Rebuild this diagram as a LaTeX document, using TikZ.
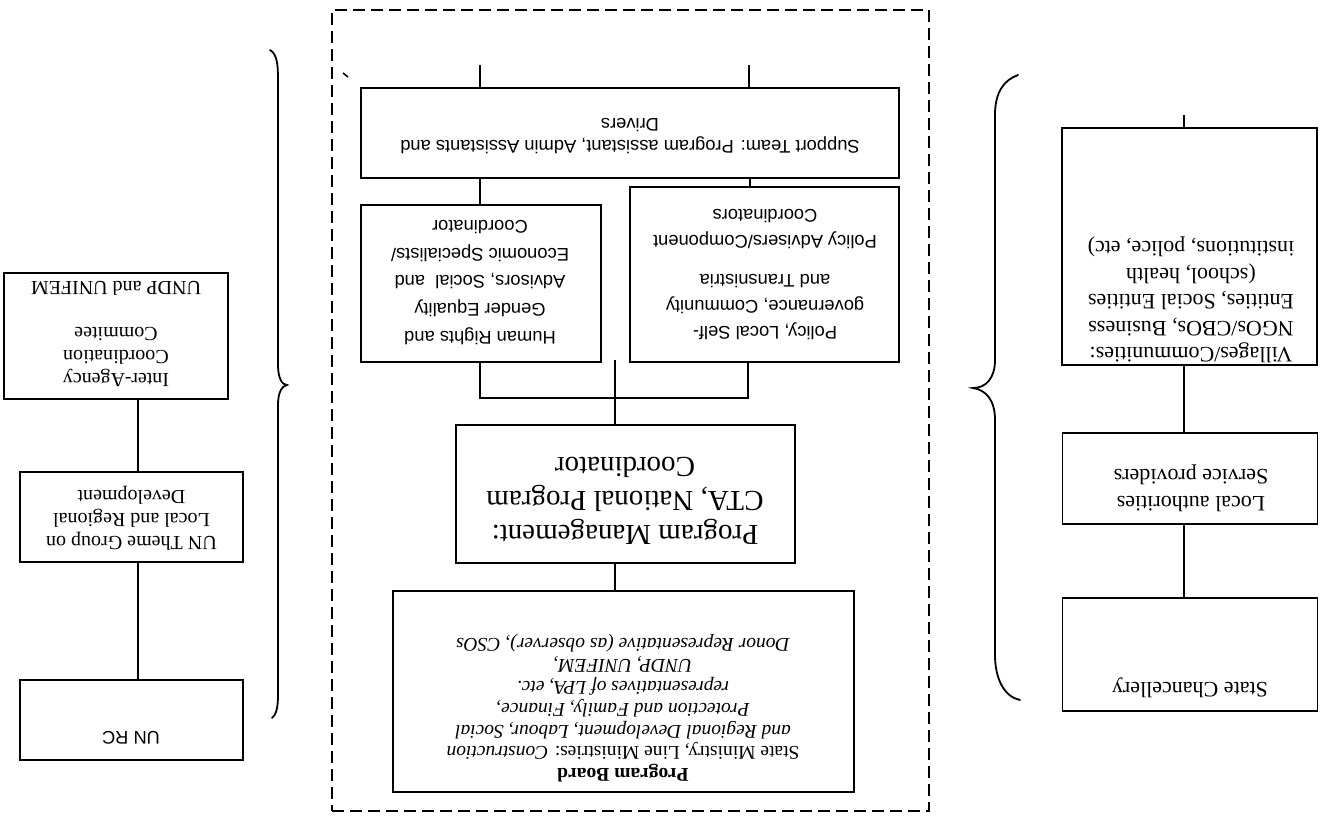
\documentclass[tikz,border=0pt]{standalone}
\usepackage{fontspec}
\setmainfont{Liberation Serif}
\setsansfont{Liberation Sans}
\begin{document}
\begin{tikzpicture}[x=1pt,y=-1pt,
  box/.style={draw, line width=1.8pt, rectangle, inner sep=0pt},
  conn/.style={line width=1.8pt},
  txt/.style={rotate=180, inner sep=0pt, align=center},
  brace/.style={line width=1.8pt, line cap=round},
  dbox/.style={draw, line width=1.6pt, dash pattern=on 12pt off 6pt, rectangle, inner sep=0pt}]
\useasboundingbox (0,0) rectangle (1320,815);

% ---------- left column ----------
\node[box, minimum width=224pt, minimum height=126pt] (ia) at (116,336) {};
\node[txt, font=\fontsize{20}{23}\selectfont] (iaT) at (116,333.5)
  {Inter-Agency\\Coordination\\Commitee\\[23pt]UNDP and UNIFEM};
\node[box, minimum width=223pt, minimum height=90pt] (tg) at (131.5,517) {};
\node[txt, font=\fontsize{20}{23}\selectfont] (tgT) at (131.5,518)
  {UN Theme Group on\\Local and Regional\\Development};
\node[box, minimum width=223pt, minimum height=80pt] (unrc) at (131.5,720) {};
\node[txt, font=\sffamily\fontsize{18.3}{22}\selectfont] (unrcT) at (131,738) {UN RC};

\coordinate (lx) at (138,0);
\draw[conn] (ia.south -| lx) -- (tg.north -| lx);
\draw[conn] (tg.south -| lx) -- (unrc.north -| lx);

% left brace
\draw[brace] (270,50) .. controls (277,54) and (278,64) .. (278,80) -- (278,365)
  .. controls (278,378) and (282,385) .. (287,385)
  .. controls (282,386) and (278,392) .. (278,405) -- (278,695)
  .. controls (278,708) and (276,715) .. (272,718);

% ---------- centre: dashed frame ----------
\node[dbox, minimum width=597pt, minimum height=801pt] (frame) at (630.5,410.5) {};
\draw[line width=1.5pt] (343,73) -- (348,77);

\node[box, minimum width=538pt, minimum height=90pt] (st) at (630,133) {};
\node[txt, font=\sffamily\fontsize{18.3}{22}\selectfont] (stT) at (630,136)
  {Support Team: Program assistant, Admin Assistants and\\Drivers};

\node[box, minimum width=240pt, minimum height=157pt] (hr) at (481,283.5) {};
\node[txt, font=\sffamily\fontsize{18.3}{27.7}\selectfont] (hrT) at (480,282.5)
  {Human Rights and\\Gender Equality\\Advisors, Social\ \ and\\Economic Specialists/\\Coordinator};

\node[box, minimum width=269pt, minimum height=175pt] (pol) at (764.5,274.5) {};
\node[txt, font=\sffamily\fontsize{18.3}{26}\selectfont] (polT) at (765,274.5)
  {Policy, Local Self-\\governance, Community\\and Transnistria\\[13pt]Policy Advisers/Component\\Coordinators};

\node[box, minimum width=339pt, minimum height=138pt] (pm) at (625.5,494) {};
\node[txt, font=\fontsize{29}{34}\selectfont] (pmT) at (625,501)
  {Program Management:\\CTA, National Program\\Coordinator};

\node[box, minimum width=461pt, minimum height=201pt] (pb) at (623.5,691.5) {};
\node[txt, font=\fontsize{19.5}{21.7}\selectfont] (pbT) at (623,708)
  {\textbf{Program Board}\\
   State Ministry, Line Ministries: \textit{Construction}\\
   \textit{and Regional Development, Labour, Social}\\
   \textit{Protection and Family, Finance,}\\
   \textit{representatives of LPA, etc.}\\
   \textit{UNDP, UNIFEM,}\\
   \textit{Donor Representative (as observer), CSOs}};

\coordinate (s1) at (480,65);
\coordinate (s2) at (749,65);
\coordinate (s3) at (750,0);
\draw[conn] (s1) -- (st.north -| s1);
\draw[conn] (s2) -- (st.north -| s2);
\draw[conn] (st.south -| s1) -- (hr.north -| s1);
\draw[conn] (st.south -| s3) -- (pol.north -| s3);
\coordinate (jL) at (480,398);
\coordinate (jR) at (748,398);
\draw[conn] (hr.south -| jL) -- (jL) -- (jR) -- (pol.south -| jR);
\coordinate (mtop) at (615,360);
\draw[conn] (mtop) -- (pm.north -| mtop);
\draw[conn] (pm.south -| mtop) -- (pb.north -| mtop);

% ---------- right column ----------
\draw[brace] (1018,75) .. controls (1004,80) and (995,92) .. (995,115) -- (995,360)
  .. controls (995,378) and (986,388) .. (973,388)
  .. controls (986,390) and (995,400) .. (995,420) -- (995,655)
  .. controls (995,680) and (1005,697) .. (1020,700);

\node[box, minimum width=255pt, minimum height=237pt] (vil) at (1189.5,246.5) {};
\node[txt, font=\fontsize{22}{26.5}\selectfont] (vilT) at (1191,300)
  {Villages/Communities:\\NGOs/CBOs, Business\\Entities, Social Entities\\(school, health\\institutions, police, etc)};
\node[box, minimum width=255pt, minimum height=91pt] (la) at (1190,478.5) {};
\node[txt, font=\fontsize{22}{27}\selectfont] (laT) at (1191,488)
  {Local authorities\\Service providers};
\node[box, minimum width=255pt, minimum height=113pt] (sc) at (1190,654.5) {};
\node[txt, font=\fontsize{22}{26}\selectfont] (scT) at (1190,688) {State Chancellery};

\coordinate (rx) at (1184,0);
\coordinate (vstub) at (1184,115);
\draw[conn] (vstub) -- (vil.north -| rx);
\draw[conn] (vil.south -| rx) -- (la.north -| rx);
\draw[conn] (la.south -| rx) -- (sc.north -| rx);
\end{tikzpicture}
\end{document}
